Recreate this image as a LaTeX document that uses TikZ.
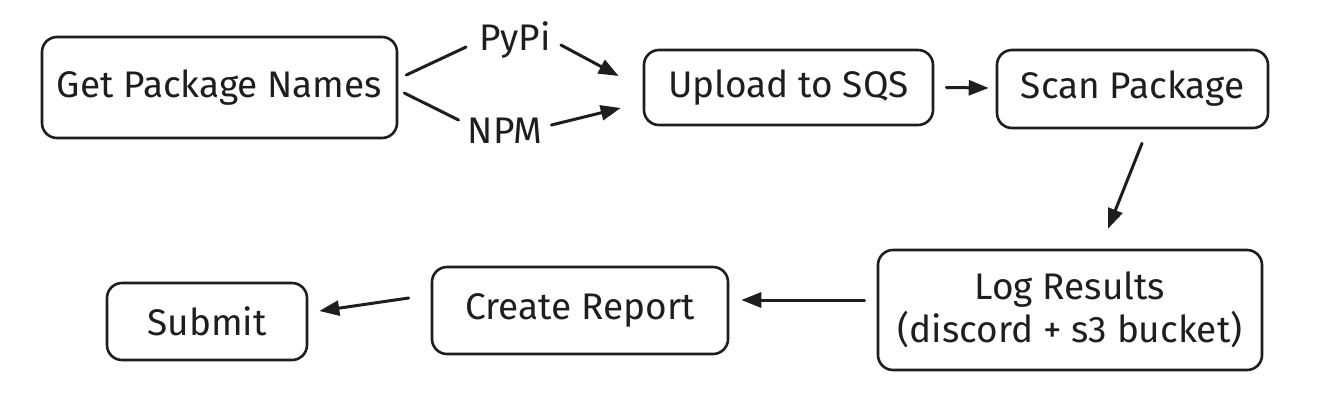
\documentclass[tikz,border=0pt]{standalone}
\usepackage{fontspec}
\setmainfont{Fira Sans}
\usetikzlibrary{arrows.meta}
\definecolor{ink}{HTML}{1E1E1E}
\begin{document}
\begin{tikzpicture}[x=1pt,y=-1pt,
  box/.style={draw=ink,line width=2.6pt,rounded corners=15pt,inner sep=0pt,align=center,
    font=\fontsize{37}{43}\selectfont,text=ink},
  lbl/.style={inner sep=0pt,font=\fontsize{37}{43}\selectfont,text=ink},
  conn/.style={draw=ink,line width=3pt,line cap=round},
  arr/.style={conn,-{Triangle[length=20pt,width=15pt]}}]
\useasboundingbox[fill=white] (0,0) rectangle (1322,408);
\node[box,minimum width=355pt,minimum height=101pt] (b1) at (219.5,87.5) {Get Package Names};
\node[box,minimum width=289pt,minimum height=75pt] (b2) at (788.5,87.5) {Upload to SQS};
\node[box,minimum width=271pt,minimum height=78pt] (b3) at (1132.5,89) {Scan Package};
\node[box,minimum width=384pt,minimum height=120pt] (b4) at (1070,310) {Log Results\\(discord + s3 bucket)};
\node[box,minimum width=296pt,minimum height=87pt] (b5) at (580,310.5) {Create Report};
\node[box,minimum width=200pt,minimum height=77pt] (b6) at (207,321.5) {Submit};
\node[lbl] (pypi) at (515,40) {PyPi};
\node[lbl] (npm) at (505,131) {NPM};
\draw[conn] ([shift={(8,-12.5)}]b1.east) -- ([shift={(-13,7)}]pypi.west);
\draw[arr] ([shift={(10,5)}]pypi.east) -- ([shift={(-24,-11.5)}]b2.west);
\draw[conn] ([shift={(6,5.5)}]b1.east) -- ([shift={(-9,-11)}]npm.west);
\draw[arr] ([shift={(9,-6)}]npm.east) -- ([shift={(-22,20.5)}]b2.west);
\draw[arr] ([shift={(12,0)}]b2.east) -- ([shift={(-7,-1)}]b3.west);
\draw[arr] ([shift={(9.5,14)}]b3.south) -- ([shift={(38,-20)}]b4.north);
\draw[arr] ([shift={(-12,-10)}]b4.west) -- ([shift={(12,-10.5)}]b5.east);
\draw[arr] ([shift={(-22,-12.5)}]b5.west) -- ([shift={(11,-10.5)}]b6.east);
\end{tikzpicture}
\end{document}
